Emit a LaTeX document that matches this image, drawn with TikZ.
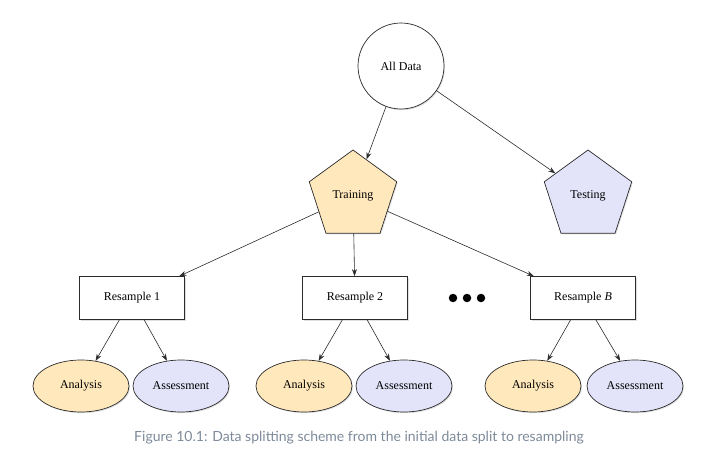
\documentclass[tikz,border=0pt]{standalone}
\usepackage{fontspec}
\setmainfont{Liberation Serif}
\newfontfamily\captionfont{Lato}
\usetikzlibrary{arrows.meta, shapes.geometric, shadows}

\definecolor{trainfill}{HTML}{FFE9BC}
\definecolor{testfill}{HTML}{E3E4FA}
\definecolor{edgegray}{HTML}{2B2B2B}
\definecolor{captiongray}{HTML}{7D8A99}

\tikzset{
  shape base/.style={draw=edgegray, line width=0.7pt, font=\fontsize{12}{14}\selectfont, inner sep=0pt,
    drop shadow={opacity=0.25, shadow xshift=1pt, shadow yshift=-1.2pt}},
  datanode/.style={shape base, circle, fill=white, minimum size=86pt},
  splitnode/.style={shape base, regular polygon, regular polygon sides=5, minimum size=92pt},
  resamplenode/.style={shape base, rectangle, fill=white, minimum width=105pt, minimum height=43pt},
  partnode/.style={shape base, ellipse, minimum width=96pt, minimum height=52pt},
  dot/.style={circle, fill=black, inner sep=0pt, minimum size=8.5pt}
}

\begin{document}
\begin{tikzpicture}[x=1pt, y=-1pt, ->, >={Stealth[length=7pt, width=5pt]}, semithick, draw=edgegray]
  \useasboundingbox (0,0) rectangle (706,473);

  \node[datanode] (all) at (401,66) {All Data};
  \node[splitnode, fill=trainfill] (train) at (353,196) {Training};
  \node[splitnode, fill=testfill] (test) at (588,196) {Testing};

  \node[resamplenode] (r1) at (132,298) {Resample 1};
  \node[resamplenode] (r2) at (355,298) {Resample 2};
  \node[resamplenode] (rB) at (583,298) {Resample \textit{B}};

  \node[dot] (d1) at (453,298) {};
  \node[dot] (d2) at (467,298) {};
  \node[dot] (d3) at (481,298) {};

  \node[partnode, fill=trainfill] (an1) at (81,386) {Analysis};
  \node[partnode, fill=testfill] (as1) at (181,386) {Assessment};
  \node[partnode, fill=trainfill] (an2) at (304,386) {Analysis};
  \node[partnode, fill=testfill] (as2) at (404,386) {Assessment};
  \node[partnode, fill=trainfill] (anB) at (533,386) {Analysis};
  \node[partnode, fill=testfill] (asB) at (635,386) {Assessment};

  \path[draw=edgegray, line width=0.6pt] (all) edge (train)
    (all) edge (test)
    (train) edge (r1)
    (train) edge (r2)
    (train) edge (rB)
    (r1) edge (an1)
    (r1) edge (as1)
    (r2) edge (an2)
    (r2) edge (as2)
    (rB) edge (anB)
    (rB) edge (asB);

  \node[font=\captionfont\fontsize{14}{16}\selectfont, text=captiongray] (caption) at (359,438)
    {Figure 10.1: Data splitting scheme from the initial data split to resampling};
\end{tikzpicture}
\end{document}
